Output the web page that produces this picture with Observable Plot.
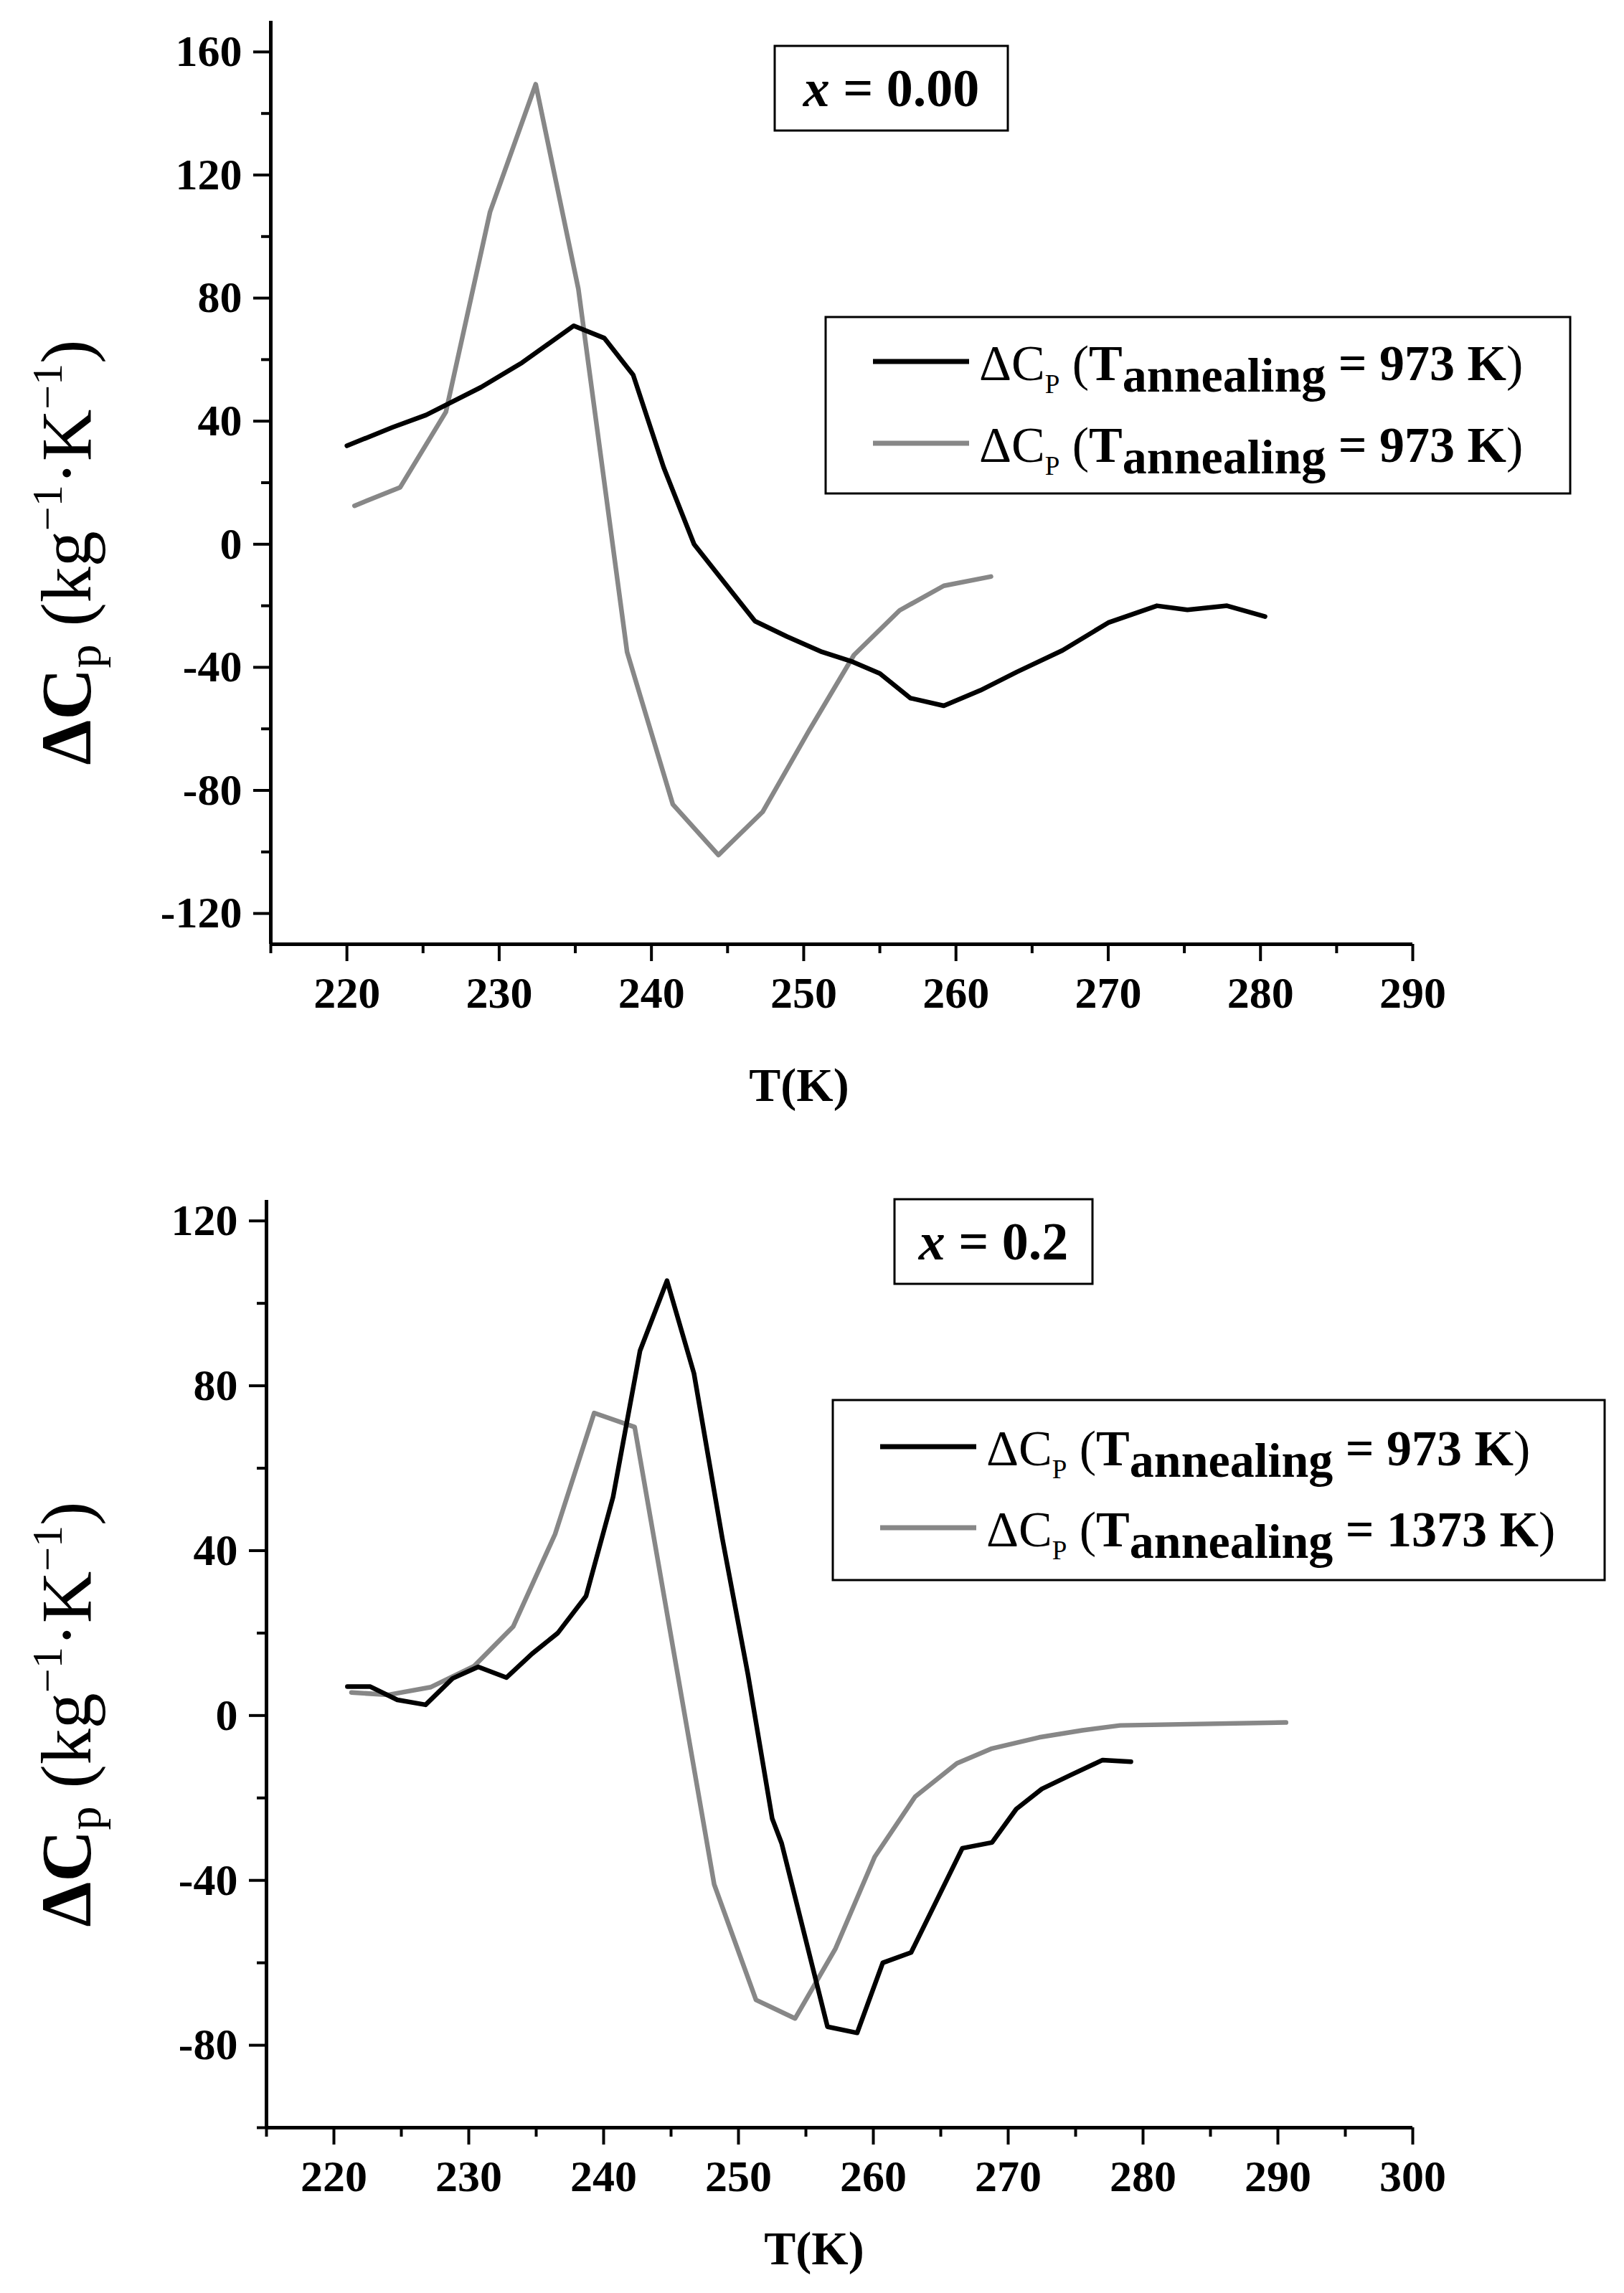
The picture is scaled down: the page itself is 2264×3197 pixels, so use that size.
<!DOCTYPE html>
<html><head><meta charset="utf-8">
<script src="https://cdn.jsdelivr.net/npm/d3@7"></script>
<script src="https://cdn.jsdelivr.net/npm/@observablehq/plot@0.6"></script>
<style>
html,body{margin:0;padding:0;background:#fff;}
#fig{width:2264px;}
#fig svg{display:block;}
</style></head><body><div id="fig"></div>
<script>
// ---------- data: panel x = 0.00 ----------
const topXDomain = [215, 290];
const topYDomain = [-130, 170];
const topXMajor = [220, 230, 240, 250, 260, 270, 280, 290];
const topXMinor = [215, 225, 235, 245, 255, 265, 275, 285];
const topYMajor = [-120, -80, -40, 0, 40, 80, 120, 160];
const topYMinor = [-100, -60, -20, 20, 60, 100, 140];

const topBlackT = [220.0, 223.0, 225.2, 228.8, 231.5, 234.9, 236.9, 238.8, 240.8, 242.8, 244.4, 246.8, 248.9, 251.2, 253.1, 255.0, 257.0, 259.2, 261.6, 264.0, 267.0, 270.0, 273.2, 275.2, 277.8, 280.3];
const topBlackV = [32, 38, 42, 51, 59, 71, 67, 55, 25, 0, -10, -25, -30, -35, -38, -42, -50, -52.5, -47.5, -41.5, -34.5, -25.5, -20, -21.3, -20, -23.5];
const topGrayT = [220.5, 223.5, 226.5, 229.4, 232.4, 235.2, 238.4, 241.4, 244.4, 247.3, 250.3, 253.3, 256.3, 259.2, 262.3];
const topGrayV = [12.5, 18.5, 43, 108, 149.5, 83, -35, -84.5, -101, -87, -61, -36, -21.5, -13.5, -10.5];
const topTitle = "0.00";
const topLegend = ["973 K", "973 K"];

// ---------- data: panel x = 0.2 ----------
const botXDomain = [215, 300];
const botYDomain = [-100, 125];
const botXMajor = [220, 230, 240, 250, 260, 270, 280, 290, 300];
const botXMinor = [215, 225, 235, 245, 255, 265, 275, 285, 295];
const botYMajor = [-80, -40, 0, 40, 80, 120];
const botYMinor = [-100, -60, -20, 20, 60, 100];

const botBlackT = [221.0, 222.7, 224.7, 226.8, 228.8, 230.7, 232.8, 234.7, 236.6, 238.7, 240.7, 242.7, 244.7, 246.7, 248.8, 250.7, 252.5, 253.2, 256.6, 258.8, 260.7, 262.8, 266.6, 268.8, 270.6, 272.5, 274.6, 277.0, 279.1];
const botBlackV = [7, 7, 3.8, 2.6, 9, 11.8, 9.2, 15, 20, 29, 53, 88.5, 105.5, 83, 43, 10, -25, -31, -75.5, -77, -60, -57.5, -32.2, -30.8, -22.7, -17.8, -14.5, -10.8, -11.2];
const botGrayT = [221.3, 224.0, 227.2, 230.4, 233.3, 236.4, 239.3, 242.3, 248.2, 251.3, 254.2, 257.2, 260.1, 263.1, 266.2, 268.8, 272.3, 275.5, 278.3, 290.6];
const botGrayV = [5.6, 5, 6.9, 12, 21.6, 44, 73.4, 70, -41, -69, -73.5, -56.5, -34.3, -19.7, -11.6, -8, -5.3, -3.6, -2.4, -1.7];
const botTitle = "0.2";
const botLegend = ["973 K", "1373 K"];

const BLACK = "#000000";
const GRAY = "#878787";
const SERIF = "'Liberation Serif', 'Times New Roman', 'DejaVu Serif', serif";

function zip(T, V, s) { return T.map((t, i) => ({T: t, V: V[i], s})); }

function panel(cfg) {
  const data = [...zip(cfg.blackT, cfg.blackV, "a"), ...zip(cfg.grayT, cfg.grayV, "b")];
  const svg = Plot.plot({
    width: 2264, height: cfg.height,
    marginTop: cfg.mt, marginBottom: cfg.mb, marginLeft: cfg.ml, marginRight: cfg.mr,
    style: {fontFamily: SERIF, fontWeight: "bold", background: "white", color: "black"},
    x: {domain: cfg.xDomain},
    y: {domain: cfg.yDomain},
    marks: [
      Plot.axisX({ticks: cfg.xMajor, tickSize: 24, tickPadding: 20, tickFormat: d => String(d), fontSize: 62, strokeWidth: 4, label: null}),
      Plot.axisX({ticks: cfg.xMinor, tickSize: 13, text: null, strokeWidth: 4, label: null}),
      Plot.axisY({ticks: cfg.yMajor, tickSize: 24, tickPadding: 16, tickFormat: d => String(d), fontSize: 62, strokeWidth: 4, label: null}),
      Plot.axisY({ticks: cfg.yMinor, tickSize: 13, text: null, strokeWidth: 4, label: null}),
      Plot.ruleY([cfg.yDomain[0]], {strokeWidth: 5}),
      Plot.ruleX([cfg.xDomain[0]], {strokeWidth: 5}),
      Plot.line(data.filter(d => d.s === "b"), {x: "T", y: "V", stroke: GRAY, strokeWidth: 6.5}),
      Plot.line(data.filter(d => d.s === "a"), {x: "T", y: "V", stroke: BLACK, strokeWidth: 6.5})
    ]
  });
  const g = d3.select(svg).append("g").attr("font-family", SERIF);

  // title box
  const tb = cfg.titleBox;
  g.append("rect").attr("x", tb[0]).attr("y", tb[1]).attr("width", tb[2]).attr("height", tb[3])
    .attr("fill", "white").attr("stroke", "black").attr("stroke-width", 3);
  const tt = g.append("text").attr("x", tb[0] + tb[2] / 2).attr("y", tb[1] + tb[3] / 2 + 25)
    .attr("text-anchor", "middle").attr("font-size", 74).attr("font-weight", "bold");
  tt.append("tspan").attr("font-style", "italic").text("x");
  tt.append("tspan").text(" = " + cfg.title);

  // legend
  const lb = cfg.legendBox;
  g.append("rect").attr("x", lb[0]).attr("y", lb[1]).attr("width", lb[2]).attr("height", lb[3])
    .attr("fill", "white").attr("stroke", "black").attr("stroke-width", 3);
  [BLACK, GRAY].forEach((c, i) => {
    const ly = cfg.legendY[i];
    g.append("line").attr("x1", lb[0] + 66).attr("x2", lb[0] + 200).attr("y1", ly).attr("y2", ly)
      .attr("stroke", c).attr("stroke-width", 7);
    const t = g.append("text").attr("x", lb[0] + 214).attr("y", ly + 26).attr("font-size", 70)
      .attr("text-anchor", "start");
    t.append("tspan").attr("font-weight", "normal").text("ΔC");
    t.append("tspan").attr("font-weight", "normal").attr("font-size", 37).attr("dy", 18).text("P");
    t.append("tspan").attr("font-weight", "normal").attr("dy", -18).text(" (");
    t.append("tspan").attr("font-weight", "bold").text("T");
    t.append("tspan").attr("font-weight", "bold").attr("font-size", 68).attr("dy", 16).text("annealing");
    t.append("tspan").attr("font-weight", "bold").attr("dy", -16).text(" = " + cfg.legend[i]);
    t.append("tspan").attr("font-weight", "normal").text(")");
  });

  // x label
  g.append("text").attr("x", cfg.xLabel[0]).attr("y", cfg.xLabel[1]).attr("text-anchor", "middle")
    .attr("font-size", 66).attr("font-weight", "bold").text("T(K)");

  // y label
  const yl = g.append("text").attr("transform", `translate(${cfg.yLabel[0]},${cfg.yLabel[1]}) rotate(-90)`)
    .attr("text-anchor", "middle").attr("font-size", 100).attr("font-weight", "normal");
  yl.append("tspan").attr("font-weight", "bold").text("ΔC");
  yl.append("tspan").attr("font-size", 66).attr("dy", 14).text("p");
  yl.append("tspan").attr("dy", -14).text(" (kg");
  yl.append("tspan").attr("font-size", 60).attr("dy", -40).text("−1");
  yl.append("tspan").attr("dy", 40).text("·K");
  yl.append("tspan").attr("font-size", 60).attr("dy", -40).text("−1");
  yl.append("tspan").attr("dy", 40).text(")");
  return svg;
}

const fig = document.getElementById("fig");
fig.appendChild(panel({
  height: 1600, mt: 29, mb: 284, ml: 377, mr: 295,
  xDomain: topXDomain, yDomain: topYDomain, xMajor: topXMajor, xMinor: topXMinor, yMajor: topYMajor, yMinor: topYMinor,
  blackT: topBlackT, blackV: topBlackV, grayT: topGrayT, grayV: topGrayV,
  title: topTitle, titleBox: [1080, 64, 325, 118],
  legend: topLegend, legendBox: [1151, 442, 1038, 246], legendY: [504, 618],
  xLabel: [1114, 1535], yLabel: [126, 770]
}));
fig.appendChild(panel({
  height: 1597, mt: 73, mb: 231, ml: 371, mr: 295,
  xDomain: botXDomain, yDomain: botYDomain, xMajor: botXMajor, xMinor: botXMinor, yMajor: botYMajor, yMinor: botYMinor,
  blackT: botBlackT, blackV: botBlackV, grayT: botGrayT, grayV: botGrayV,
  title: botTitle, titleBox: [1247, 72, 276, 118],
  legend: botLegend, legendBox: [1161, 352, 1076, 251], legendY: [417, 530],
  xLabel: [1135, 1557], yLabel: [126, 790]
}));
</script>
</body></html>
